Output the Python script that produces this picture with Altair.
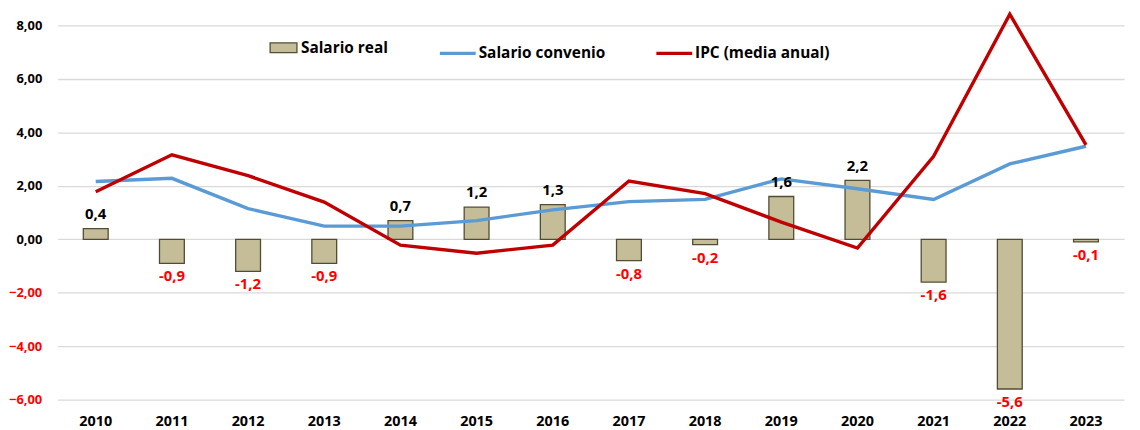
import altair as alt
import pandas as pd

years = [str(y) for y in range(2010, 2024)]
salario_real = [0.4, -0.9, -1.2, -0.9, 0.7, 1.2, 1.3, -0.8, -0.2, 1.6, 2.2, -1.6, -5.6, -0.1]
salario_convenio = [2.16, 2.28, 1.15, 0.49, 0.49, 0.70, 1.10, 1.41, 1.49, 2.26, 1.89, 1.49, 2.82, 3.48]
ipc = [1.78, 3.16, 2.38, 1.39, -0.22, -0.52, -0.22, 2.18, 1.71, 0.64, -0.33, 3.10, 8.42, 3.53]

FONT = "Open Sans"

bars_df = pd.DataFrame({
    "year": years,
    "value": salario_real,
    "serie": ["Salario real"] * len(years),
    "label": [f"{v:.1f}".replace(".", ",") for v in salario_real],
})
lines_df = pd.DataFrame({
    "year": years * 2,
    "value": salario_convenio + ipc,
    "serie": ["Salario convenio"] * len(years) + ["IPC (media anual)"] * len(years),
})

x = alt.X("year:N", title=None,
          scale=alt.Scale(paddingInner=0, paddingOuter=0),
          axis=alt.Axis(labelAngle=0, domain=False, ticks=False, grid=False,
                        labelPadding=15, labelFont=FONT, labelFontSize=14.5,
                        labelFontWeight="bold", labelColor="black"))
y_scale = alt.Scale(domain=[-6, 8], nice=False)
y = alt.Y("value:Q", title=None, scale=y_scale,
          axis=alt.Axis(values=[-6, -4, -2, 0, 2, 4, 6, 8], domain=False, ticks=False,
                        grid=True, gridColor="#D9D9D9", gridWidth=1.3,
                        labelPadding=16, labelFont=FONT, labelFontSize=13,
                        labelFontWeight="bold",
                        labelColor={"expr": "datum.value < 0 ? '#FF0000' : '#000000'"},
                        labelExpr="replace(format(datum.value, '.2f'), '.', ',')"))

bars = alt.Chart(bars_df).mark_bar(size=25, stroke="#514D35", strokeWidth=1.3).encode(
    x=x, y=y,
    fill=alt.Fill("serie:N", scale=alt.Scale(domain=["Salario real"], range=["#C4BD97"]),
                  legend=alt.Legend(title=None, orient="none", legendX=213, legendY=8,
                                    symbolType="M-1,-0.36H1V0.36H-1Z", symbolSize=729,
                                    symbolStrokeColor="#514D35", symbolStrokeWidth=1.3,
                                    labelFont=FONT, labelFontSize=15.5, labelFontWeight="bold",
                                    labelColor="black", labelOffset=3)),
)

lines = alt.Chart(lines_df).mark_line(strokeWidth=3.4).encode(
    x=x, y=y,
    detail="serie:N",
    stroke=alt.Stroke("serie:N",
                      scale=alt.Scale(domain=["Salario convenio", "IPC (media anual)"],
                                      range=["#5B9BD5", "#C00000"]),
                      sort=["Salario convenio", "IPC (media anual)"],
                      legend=alt.Legend(title=None, orient="none", legendX=383, legendY=8,
                                        direction="horizontal", symbolType="stroke",
                                        symbolSize=1300, symbolStrokeWidth=3.4,
                                        columnPadding=44, labelFont=FONT, labelFontSize=15.5,
                                        labelFontWeight="bold", labelColor="black",
                                        labelOffset=1)),
)

pos_labels = alt.Chart(bars_df).transform_filter("datum.value >= 0").mark_text(
    baseline="bottom", dy=-7, font=FONT, fontSize=15, fontWeight="bold", color="black"
).encode(x=x, y=y, text="label:N")

neg_labels = alt.Chart(bars_df).transform_filter("datum.value < 0").mark_text(
    baseline="top", dy=6, font=FONT, fontSize=15, fontWeight="bold", color="#FF0000"
).encode(x=x, y=y, text="label:N")

chart = alt.layer(bars, lines, pos_labels, neg_labels).resolve_legend(
    fill="independent", stroke="independent"
).properties(
    width=1074, height=377,
    autosize=alt.AutoSizeParams(type="none"),
    padding={"left": 50, "top": 16, "right": 8, "bottom": 28},
    background="white",
).configure_view(stroke=None)

chart.save("out.html", embed_options={"renderer": "svg", "actions": False})
